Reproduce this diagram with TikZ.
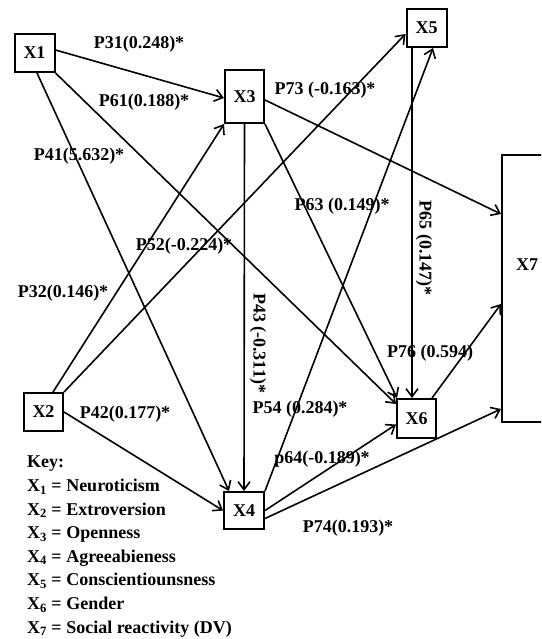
\documentclass[tikz,border=0pt]{standalone}
\usepackage{fontspec}
\setmainfont{Liberation Serif}
\usetikzlibrary{arrows.meta}
\tikzset{
  every node/.style={font=\fontsize{18}{22}\selectfont\bfseries},
  var/.style   = {rectangle, draw, line width=2pt, inner sep=0pt,
                  minimum width=40pt, minimum height=38pt},
  arrow/.style = {-{Straight Barb[length=8pt,width=12pt,line width=1.6pt]}, line width=1.6pt},
  coef/.style  = {inner sep=0pt},
}

\begin{document}
\begin{tikzpicture}[x=1pt, y=-1pt]
  \path[use as bounding box, clip] (0,0) rectangle (541,639);

  % ---- variables ----
  \node[var] (x1) at (34.5,53) {X1};
  \node[var, minimum width=39pt, minimum height=53pt] (x3) at (244.5,96.5) {X3};
  \node[var] (x5) at (426.5,28) {X5};
  \node[var, minimum width=39pt] (x2) at (43.5,412) {X2};
  \node[var, minimum height=37pt] (x4) at (244,510.5) {X4};
  \node[var, minimum width=39pt, minimum height=39pt] (x6) at (416.5,418.5) {X6};
  \node[var, minimum width=80pt, minimum height=267pt] (x7) at (542,288.5) {};
  \node (x7t) at (527,265) {X7};

  % ---- paths from X1 and X2 ----
  \draw[arrow] ([yshift=3pt]x1.east) -- ([yshift=-1.5pt]x3.west);
  \draw[arrow] (x1.south east) -- ([yshift=-6pt]x6.north west);
  \draw[arrow] ([xshift=2.5pt]x1.south) -- ([xshift=6pt]x4.north west);
  \draw[arrow] ([xshift=9.5pt]x2.north) -- (x3.south west);
  \draw[arrow] (x2.north east) -- ([yshift=-6pt]x5.west);
  \draw[arrow] (x2.east) -- (x4.west);

  % ---- paths from X3, X4, X5 ----
  \draw[arrow] (x3.south) -- (x4.north);
  \draw[arrow] ([yshift=-3.5pt]x3.east) -- ([yshift=-60pt]x7.north west);
  \draw[arrow] (x3.south east) -- ([xshift=1pt]x6.north west);
  \draw[arrow] (x4.north east) -- ([xshift=6.5pt]x5.south);
  \draw[arrow] ([xshift=-14.5pt]x5.south) -- ([xshift=-4.5pt]x6.north);
  \draw[arrow] (x4.east) -- ([yshift=-6pt]x6.west);
  \draw[arrow] ([yshift=-8pt]x4.east) -- ([yshift=14pt]x7.south west);
  \draw[arrow] ([xshift=-5pt]x6.north east) -- ([yshift=119pt]x7.south west);

  % ---- path coefficients ----
  \node[coef] (l31) at (139,44)  {P31(0.248)*};
  \node[coef] (l61) at (144,102) {P61(0.188)*};
  \node[coef] (l41) at (79,156)  {P41(5.632)*};
  \node[coef] (l73) at (325,90)  {P73 (-0.163)*};
  \node[coef] (l63) at (342,206) {P63 (0.149)*};
  \node[coef] (l52) at (184,246) {P52(-0.224)*};
  \node[coef] (l32) at (63,293)  {P32(0.146)*};
  \node[coef, rotate=-90] (l43) at (258,343) {P43 (-0.311)*};
  \node[coef, rotate=-90] (l65) at (424,248) {P65 (0.147)*};
  \node[coef] (l42) at (125,414) {P42(0.177)*};
  \node[coef] (l54) at (300,409) {P54 (0.284)*};
  \node[coef] (l76) at (430,353) {P76 (0.594)};
  \node[coef] (l64) at (322,459) {p64(-0.189)*};
  \node[coef] (l74) at (348,528) {P74(0.193)*};

  % ---- key ----
  \node[anchor=north west, align=left, inner sep=0pt,
        font=\fontsize{18}{23.6}\selectfont\bfseries] (key) at (27,456)
    {Key:\\
     X\textsubscript{1} = Neuroticism\\
     X\textsubscript{2} = Extroversion\\
     X\textsubscript{3} = Openness\\
     X\textsubscript{4} = Agreeabieness\\
     X\textsubscript{5} = Conscientiounsness\\
     X\textsubscript{6} = Gender\\
     X\textsubscript{7} = Social reactivity (DV)};
\end{tikzpicture}
\end{document}
